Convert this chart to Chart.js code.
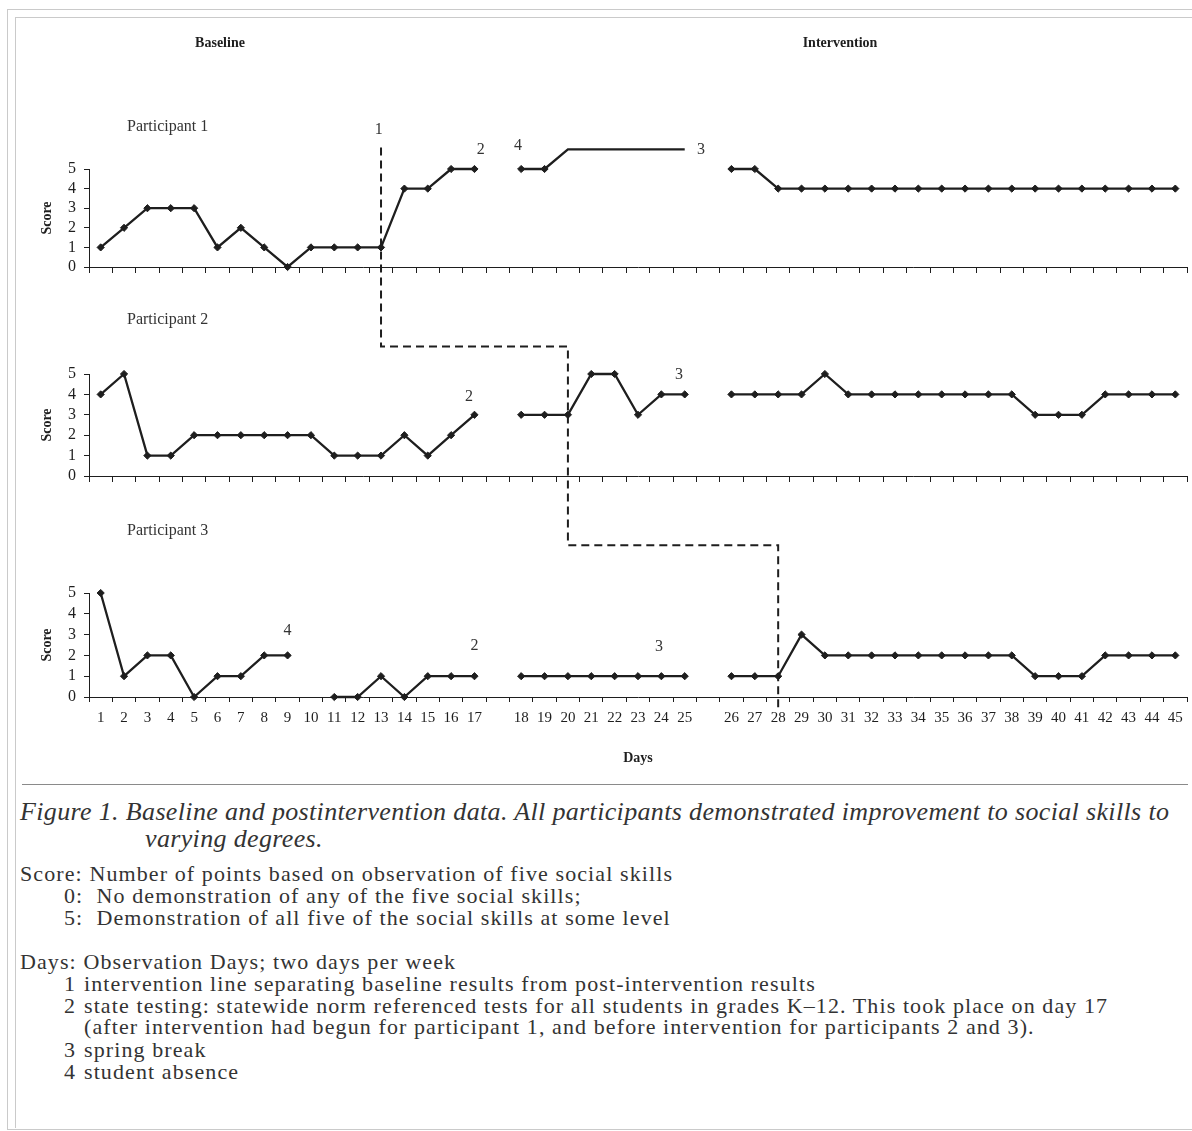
<!DOCTYPE html>
<html>
<head>
<meta charset="utf-8">
<script src="https://cdn.jsdelivr.net/npm/chart.js@4.4.0/dist/chart.umd.min.js"></script>
<style>
  html, body { margin: 0; padding: 0; background: #fff; }
  body { width: 1192px; height: 1131px; position: relative; overflow: hidden;
         font-family: "Liberation Serif", "DejaVu Serif", serif; color: #333; }
  .frame-outer { position: absolute; left: 7px; top: 9px; width: 1200px; height: 1119px;
                 border: 1px solid #cacaca; border-right: none; }
  .frame-inner { position: absolute; left: 15px; top: 17px; width: 1200px; height: 1110px;
                 border-left: 1px solid #cacaca; border-top: 1px solid #cacaca; }
  #chartBox { position: absolute; left: 16px; top: 18px; width: 1176px; height: 760px; }
  .rule { position: absolute; left: 22px; top: 784px; width: 1166px; border-top: 1px solid #8a8a8a; }
  .caption { position: absolute; left: 20px; font-style: italic; font-size: 26px; line-height: 27px;
             letter-spacing: 0.35px; white-space: nowrap; }
  .note { position: absolute; font-size: 22px; line-height: 22px; letter-spacing: 1.1px; white-space: nowrap; }
  .num { display: inline-block; width: 20px; letter-spacing: 0; }
</style>
</head>
<body>
<div class="frame-outer"></div>
<div class="frame-inner"></div>
<div id="chartBox"><canvas id="chartCanvas"></canvas></div>
<div class="rule"></div>

<div class="caption" style="top:798px">Figure 1. Baseline and postintervention data. All participants demonstrated improvement to social skills to</div>
<div class="caption" style="top:825px; left:145px">varying degrees.</div>

<div class="note" style="top:863px; left:20px">Score: Number of points based on observation of five social skills</div>
<div class="note" style="top:885px; left:64px">0:&nbsp; No demonstration of any of the five social skills;</div>
<div class="note" style="top:907px; left:64px">5:&nbsp; Demonstration of all five of the social skills at some level</div>
<div class="note" style="top:951px; left:20px">Days: Observation Days; two days per week</div>
<div class="note" style="top:973px; left:64px"><span class="num">1</span>intervention line separating baseline results from post-intervention results</div>
<div class="note" style="top:995px; left:64px"><span class="num">2</span>state testing: statewide norm referenced tests for all students in grades K–12. This took place on day 17</div>
<div class="note" style="top:1016px; left:84px">(after intervention had begun for participant 1, and before intervention for participants 2 and 3).</div>
<div class="note" style="top:1039px; left:64px"><span class="num">3</span>spring break</div>
<div class="note" style="top:1061px; left:64px"><span class="num">4</span>student absence</div>

<script>
// ------- Data (one entry per observation day, 1..45) -------
const dayLabels = ["1","2","3","4","5","6","7","8","9","10","11","12","13","14","15","16","17",
  "18","19","20","21","22","23","24","25",
  "26","27","28","29","30","31","32","33","34","35","36","37","38","39","40","41","42","43","44","45"];
const breakAfterDays = [17, 25]; // empty slot on the axis after these days

const p1Scores = [1,2,3,3,3,1,2,1,0,1,1,1,1,4,4,5,5,
  5,5,null,null,null,null,null,null,
  5,5,4,4,4,4,4,4,4,4,4,4,4,4,4,4,4,4,4,4];
// unmarked line drawn above the scale during the absence (days 19-25)
const p1AbsenceLine = [null,null,null,null,null,null,null,null,null,null,null,null,null,null,null,null,null,
  null,5,6,6,6,6,6,6,
  null,null,null,null,null,null,null,null,null,null,null,null,null,null,null,null,null,null,null,null];
const p2Scores = [4,5,1,1,2,2,2,2,2,2,1,1,1,2,1,2,3,
  3,3,3,5,5,3,4,4,
  4,4,4,4,5,4,4,4,4,4,4,4,4,3,3,3,4,4,4,4];
const p3Scores = [5,1,2,2,0,1,1,2,2,null,0,0,1,0,1,1,1,
  1,1,1,1,1,1,1,1,
  1,1,1,3,2,2,2,2,2,2,2,2,2,1,1,1,2,2,2,2];

const scoreTicks = [0, 1, 2, 3, 4, 5];
const participantNames = ["Participant 1", "Participant 2", "Participant 3"];
const phaseNames = ["Baseline", "Intervention"];

// footnote markers: panel, day, shift in slots, value on that panel's scale
const footMarks = [
  { panel: "y1", day: 13, shift: -0.1, value: 7.0, text: "1" },
  { panel: "y1", day: 17, shift: 0.27, value: 6.0, text: "2" },
  { panel: "y1", day: 18, shift: -0.14, value: 6.2, text: "4" },
  { panel: "y1", day: 25, shift: 0.7, value: 6.0, text: "3" },
  { panel: "y2", day: 17, shift: -0.23, value: 3.9, text: "2" },
  { panel: "y2", day: 25, shift: -0.25, value: 4.95, text: "3" },
  { panel: "y3", day: 9, shift: 0, value: 3.2, text: "4" },
  { panel: "y3", day: 17, shift: 0, value: 2.45, text: "2" },
  { panel: "y3", day: 24, shift: -0.1, value: 2.4, text: "3" },
];

// intervention line (day, panel, value)
const phaseLine = [
  { day: 13, panel: "y1", value: 6.1 },
  { day: 13, panel: "y2", value: 6.35 },
  { day: 20, panel: "y2", value: 6.35 },
  { day: 20, panel: "y3", value: 7.3 },
  { day: 28, panel: "y3", value: 7.3 },
  { day: 28, panel: "y3", value: -0.7 },
];

// ------- Helpers -------
function withBreaks(arr, filler) {
  const out = [];
  arr.forEach((v, i) => {
    out.push(v);
    if (breakAfterDays.includes(i + 1)) out.push(filler);
  });
  return out;
}

function slotOfDay(day) {
  return day - 1 + breakAfterDays.filter((d) => day > d).length;
}

const SERIF = '"Liberation Serif", "DejaVu Serif", serif';
const INK = "#1e1e1e";
Chart.defaults.font.family = SERIF;
Chart.defaults.color = INK;

function lineSet(label, values, axis, withPoints) {
  return {
    label,
    data: withBreaks(values, null),
    xAxisID: "x",
    yAxisID: axis,
    borderColor: INK,
    backgroundColor: INK,
    borderWidth: 2.3,
    pointStyle: "rectRot",
    pointRadius: withPoints ? 3.6 : 0,
    pointBorderWidth: 1,
    pointBorderColor: INK,
    pointBackgroundColor: INK,
    tension: 0,
    spanGaps: false,
    clip: false,
  };
}

const Y_WIDTH = 73;

function panelScale(weight, stackWeight) {
  return {
    type: "linear",
    axis: "y",
    position: "left",
    stack: "panels",
    stackWeight,
    weight,
    min: 0,
    max: 5,
    afterBuildTicks: (s) => { s.ticks = scoreTicks.map((v) => ({ value: v })); },
    afterFit: (s) => { s.width = Y_WIDTH; },
    ticks: { autoSkip: false, font: { size: 16 }, color: INK, padding: 8 },
    grid: { drawOnChartArea: false, drawTicks: true, tickLength: 5, color: INK },
    border: { display: true, color: INK, width: 1 },
    title: { display: true, text: "Score", font: { size: 14, weight: "bold" }, color: INK, padding: { top: 23, bottom: 0 } },
  };
}

function gapScale(weight, stackWeight) {
  return {
    type: "linear",
    axis: "y",
    position: "left",
    stack: "panels",
    stackWeight,
    weight,
    min: 0,
    max: 1,
    afterFit: (s) => { s.width = Y_WIDTH; },
    ticks: { display: false },
    grid: { display: false },
    border: { display: false },
  };
}

function baselineAxis(panelId) {
  return {
    type: "category",
    axis: "x",
    position: { [panelId]: 0 },
    offset: true,
    ticks: { display: false },
    grid: { offset: true, drawOnChartArea: false, drawTicks: true, tickLength: 5, color: INK },
    border: { display: true, color: INK, width: 1 },
  };
}

const overlayPlugin = {
  id: "overlay",
  afterDraw(chart) {
    const { ctx, scales } = chart;
    const xs = scales.x;
    const xAt = (day, shift) => xs.getPixelForValue(slotOfDay(day) + (shift || 0));

    ctx.save();
    // intervention line
    ctx.strokeStyle = INK;
    ctx.lineWidth = 2;
    ctx.setLineDash([8, 5]);
    ctx.beginPath();
    phaseLine.forEach((p, i) => {
      const px = xAt(p.day);
      const py = scales[p.panel].getPixelForValue(p.value);
      if (i === 0) ctx.moveTo(px, py); else ctx.lineTo(px, py);
    });
    ctx.stroke();
    ctx.setLineDash([]);

    // footnote markers
    ctx.fillStyle = "#333";
    ctx.font = `16px ${SERIF}`;
    ctx.textAlign = "center";
    ctx.textBaseline = "middle";
    footMarks.forEach((m) => {
      ctx.fillText(m.text, xAt(m.day, m.shift), scales[m.panel].getPixelForValue(m.value));
    });

    // participant labels
    ctx.textAlign = "left";
    ctx.font = `16px ${SERIF}`;
    const labelValues = [7.14, 7.65, 7.98];
    ["y1", "y2", "y3"].forEach((id, i) => {
      ctx.fillText(participantNames[i], 111, scales[id].getPixelForValue(labelValues[i]));
    });

    // phase headings
    ctx.textAlign = "center";
    ctx.font = `bold 14px ${SERIF}`;
    ctx.fillStyle = INK;
    ctx.fillText(phaseNames[0], 204, 25);
    ctx.fillText(phaseNames[1], 824, 25);
    ctx.restore();
  },
};

// ------- Chart -------
window.addEventListener("DOMContentLoaded", () => {
  const ctx = document.getElementById("chartCanvas").getContext("2d");
  new Chart(ctx, {
    type: "line",
    data: {
      labels: withBreaks(dayLabels, ""),
      datasets: [
        lineSet("Participant 1", p1Scores, "y1", true),
        lineSet("Participant 1 (absent)", p1AbsenceLine, "y1", false),
        lineSet("Participant 2", p2Scores, "y2", true),
        lineSet("Participant 3", p3Scores, "y3", true),
      ],
    },
    options: {
      responsive: true,
      maintainAspectRatio: false,
      animation: false,
      layout: { padding: { top: 92, right: 5, left: 0, bottom: 0 } },
      plugins: { legend: { display: false }, tooltip: { enabled: false } },
      scales: {
        x: {
          type: "category",
          axis: "x",
          position: "bottom",
          offset: true,
          afterFit: (s) => { s.height = 81; },
          ticks: { autoSkip: false, maxRotation: 0, font: { size: 15 }, color: INK, padding: 7 },
          grid: { offset: true, drawOnChartArea: false, drawTicks: true, tickLength: 5, color: INK },
          border: { display: true, color: INK, width: 1 },
          title: { display: true, text: "Days", font: { size: 14, weight: "bold" }, color: INK, padding: { top: 0, bottom: 11 } },
        },
        xa: baselineAxis("y1"),
        xb: baselineAxis("y2"),
        gTop: gapScale(6, 59),
        y1: panelScale(5, 98),
        g1: gapScale(4, 107),
        y2: panelScale(3, 102),
        g2: gapScale(2, 117),
        y3: panelScale(1, 104),
      },
    },
    plugins: [overlayPlugin],
  });
});
</script>
</body>
</html>
